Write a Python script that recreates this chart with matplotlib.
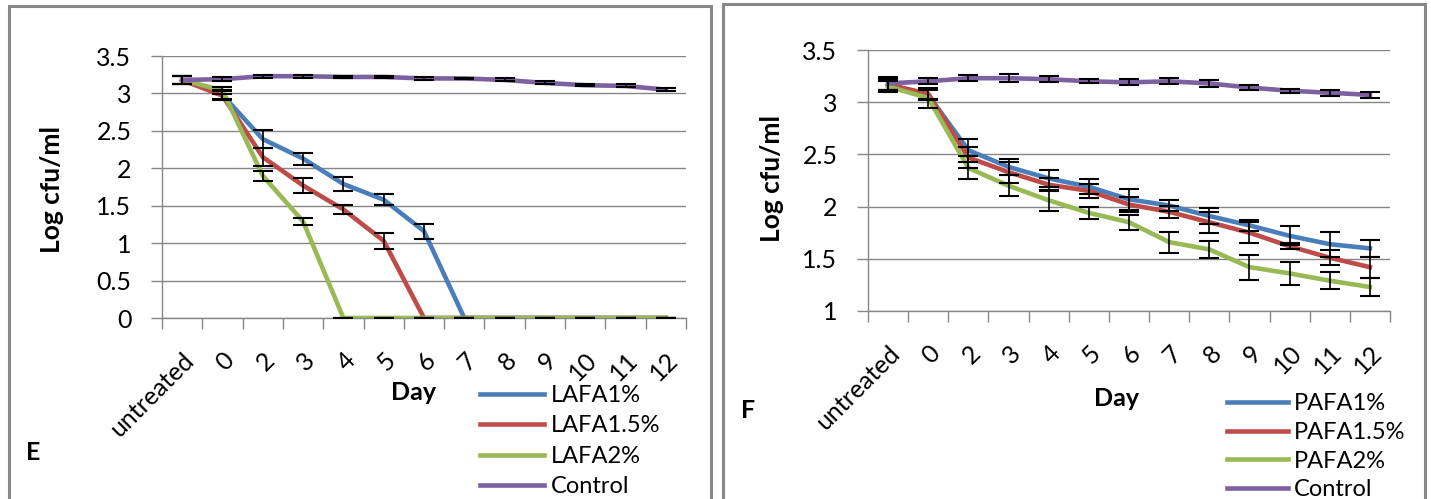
import numpy as np
import matplotlib
matplotlib.use("Agg")
import matplotlib.pyplot as plt
from matplotlib.patches import Rectangle

plt.rcParams['font.family'] = ['Lato', 'DejaVu Sans']

days = ["untreated", "0", "2", "3", "4", "5", "6", "7", "8", "9", "10", "11", "12"]

# panel E (LAFA)
lafa1 = [3.18, 2.98, 2.39, 2.13, 1.79, 1.58, 1.16, 0, 0, 0, 0, 0, 0]
lafa15 = [3.18, 2.97, 2.15, 1.77, 1.45, 1.03, 0, 0, 0, 0, 0, 0, 0]
lafa2 = [3.18, 3.04, 1.90, 1.29, 0, 0, 0, 0, 0, 0, 0, 0, 0]
ctrl_e = [3.18, 3.19, 3.23, 3.23, 3.22, 3.22, 3.20, 3.20, 3.18, 3.14, 3.11, 3.10, 3.05]
lafa1_err = [0.05, 0.06, 0.12, 0.08, 0.09, 0.07, 0.10, 0, 0, 0, 0, 0, 0]
lafa15_err = [0.05, 0.06, 0.12, 0.10, 0.06, 0.11, 0, 0, 0, 0, 0, 0, 0]
lafa2_err = [0.05, 0.05, 0.07, 0.05, 0, 0, 0, 0, 0, 0, 0, 0, 0]
ctrl_e_err = [0.05, 0.03, 0.02, 0.02, 0.01, 0.01, 0.02, 0.01, 0.02, 0.02, 0.01, 0.02, 0.02]

# panel F (PAFA)
pafa1 = [3.17, 3.07, 2.54, 2.38, 2.27, 2.19, 2.07, 2.01, 1.91, 1.82, 1.72, 1.64, 1.60]
pafa15 = [3.17, 3.08, 2.47, 2.33, 2.21, 2.15, 2.02, 1.95, 1.85, 1.75, 1.62, 1.51, 1.42]
pafa2 = [3.15, 3.04, 2.37, 2.20, 2.06, 1.94, 1.85, 1.66, 1.59, 1.42, 1.36, 1.29, 1.23]
ctrl_f = [3.18, 3.20, 3.23, 3.23, 3.22, 3.20, 3.19, 3.20, 3.18, 3.14, 3.11, 3.09, 3.07]
pafa1_err = [0.05, 0.05, 0.11, 0.08, 0.08, 0.07, 0.10, 0.05, 0.08, 0.05, 0.09, 0.12, 0.08]
pafa15_err = [0.05, 0.05, 0.10, 0.10, 0.06, 0.07, 0.07, 0.06, 0.10, 0.10, 0.03, 0.07, 0.10]
pafa2_err = [0.05, 0.10, 0.11, 0.10, 0.10, 0.06, 0.07, 0.10, 0.08, 0.12, 0.11, 0.08, 0.09]
ctrl_f_err = [0.06, 0.03, 0.03, 0.04, 0.03, 0.02, 0.03, 0.03, 0.03, 0.02, 0.02, 0.03, 0.03]

colors = ['#4A7EBB', '#BE4B48', '#98B954', '#7D60A0']
grid_col = '#868686'
W, H = 1431, 499

fig = plt.figure(figsize=(14.31, 4.99), dpi=100)

# panel frames
fig.patches.append(Rectangle((9 / W, -0.1), 702 / W, 1.1 - 6 / H, transform=fig.transFigure,
                             fill=False, edgecolor='#888888', lw=2.2, clip_on=False))
fig.patches.append(Rectangle((723 / W, -0.1), 702 / W, 1.1 - 4 / H, transform=fig.transFigure,
                             fill=False, edgecolor='#888888', lw=2.2, clip_on=False))


def draw_panel(rect, series, errs, labels, ylim, yticks, ytlabels):
    ax = fig.add_axes(rect)
    x = np.arange(len(days))
    for vals, err, col, lab in zip(series, errs, colors, labels):
        ax.plot(x, vals, color=col, lw=3.3, label=lab, zorder=3, solid_joinstyle='round')
        ax.errorbar(x, vals, yerr=err, fmt='none', ecolor='black', elinewidth=1.2,
                    capsize=7, capthick=1.5, zorder=4)
    ax.set_xlim(-0.5, len(days) - 0.5)
    ax.set_ylim(*ylim)
    ax.set_yticks(yticks)
    ax.set_yticklabels(ytlabels, fontsize=18)
    ax.set_xticks(x)
    ax.set_xticklabels(days, fontsize=18, rotation=45, ha='right', va='top', rotation_mode='anchor')
    ax.set_xticks(np.arange(-0.5, len(days)), minor=True)
    ax.tick_params(axis='x', which='major', length=0, pad=22)
    ax.tick_params(axis='x', which='minor', length=8, color=grid_col, width=1)
    ax.tick_params(axis='y', length=8, color=grid_col, width=1, pad=14)
    ax.yaxis.grid(True, color=grid_col, lw=1)
    ax.set_axisbelow(True)
    for s in ['top', 'right']:
        ax.spines[s].set_visible(False)
    for s in ['left', 'bottom']:
        ax.spines[s].set_color(grid_col)
        ax.spines[s].set_linewidth(1)
    return ax


ax1 = draw_panel([162 / W, 181 / H, 524 / W, 262 / H],
                 [lafa1, lafa15, lafa2, ctrl_e], [lafa1_err, lafa15_err, lafa2_err, ctrl_e_err],
                 ["LAFA1%", "LAFA1.5%", "LAFA2%", "Control"],
                 (0, 3.5), np.arange(0, 3.51, 0.5), ["0", "0.5", "1", "1.5", "2", "2.5", "3", "3.5"])
ax2 = draw_panel([868 / W, 188 / H, 522 / W, 261 / H],
                 [pafa1, pafa15, pafa2, ctrl_f], [pafa1_err, pafa15_err, pafa2_err, ctrl_f_err],
                 ["PAFA1%", "PAFA1.5%", "PAFA2%", "Control"],
                 (1, 3.5), np.arange(1, 3.51, 0.5), ["1", "1.5", "2", "2.5", "3", "3.5"])

fig.text(52 / W, 1 - 190 / H, "Log cfu/ml", rotation=90, fontsize=19, fontweight='bold',
         ha='center', va='center')
fig.text(772 / W, 1 - 178 / H, "Log cfu/ml", rotation=90, fontsize=19, fontweight='bold',
         ha='center', va='center')

fig.text(414 / W, 1 - 393 / H, "Day", fontsize=18, fontweight='bold', ha='center', va='center')
fig.text(1117 / W, 1 - 398 / H, "Day", fontsize=18, fontweight='bold', ha='center', va='center')
fig.text(33 / W, 1 - 453 / H, "E", fontsize=18, fontweight='bold', ha='center', va='center')
fig.text(748 / W, 1 - 410 / H, "F", fontsize=18, fontweight='bold', ha='center', va='center')

fig.legend(*ax1.get_legend_handles_labels(), loc='upper left', bbox_to_anchor=(480 / W, 1 - 385 / H),
           frameon=False, fontsize=17, handlelength=2.7, handletextpad=0.3, labelspacing=0.4,
           borderpad=0, borderaxespad=0)
fig.legend(*ax2.get_legend_handles_labels(), loc='upper left', bbox_to_anchor=(1227 / W, 1 - 393 / H),
           frameon=False, fontsize=17, handlelength=2.6, handletextpad=0.25, labelspacing=0.33,
           borderpad=0, borderaxespad=0)

fig.savefig("out.png", dpi=100)
